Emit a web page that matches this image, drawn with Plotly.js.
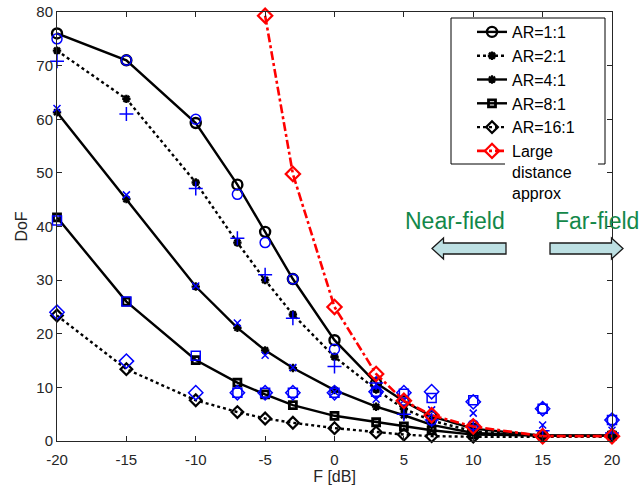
<!DOCTYPE html>
<html>
<head>
<meta charset="utf-8">
<script src="https://cdn.plot.ly/plotly-3.0.1.min.js"></script>
<style>html,body{margin:0;padding:0;background:#fff;}#chart{width:641px;height:495px;}</style>
</head>
<body>
<div id="chart"></div>
<script>
// ---- data ----
const F = [-20, -15, -10, -7, -5, -3, 0, 3, 5, 7, 10, 15, 20];

// analytic curves (black)
const ar1 = [76, 71, 59.3, 47.8, 39, 30.2, 18.8, 10.8, 7.4, 4.6, 2.3, 1, 1];
const ar2 = [72.8, 63.8, 48.2, 37, 30, 23.6, 15.7, 9.6, 6.0, 3.8, 1.8, 1, 1];
const ar4 = [61.3, 45.1, 28.8, 21.1, 16.9, 13.6, 9.5, 6.4, 4.8, 3.0, 1.5, 1, 1];
const ar8 = [41.7, 26, 15.1, 10.9, 8.7, 6.7, 4.7, 3.5, 2.7, 2.0, 1.2, 1, 1];
const ar16 = [23.4, 13.4, 7.6, 5.4, 4.2, 3.4, 2.4, 1.6, 1.2, 0.9, 0.8, 0.8, 0.8];

// simulated points (blue)
const sim1 = [75, 71, 60, 46, 37, 30.2, 17.1, 9.0, 7.6, 3.9, 3.0, 6.0, 3.9];
const sim2 = [70.8, 61, 47.1, 37.8, 31, 22.9, 13.9, 10.8, 5.0, 3.9, 2.9, 1.9, 1.5];
const sim4 = [62, 45.9, 28.9, 22, 16, 13.7, 9.2, 7.8, 7.6, 5.8, 5.2, 3.0, 2.0];
const sim8 = [41.1, 26, 15.9, 9, 9, 9, 9, 9.2, 8.8, 8.0, 7.6, 6.0, 3.9];
const sim16 = [24, 14.9, 9.0, 9, 9, 9, 9, 9.2, 9.0, 9.2, 7.3, 6.0, 3.9];

// large distance approximation (red)
const Fapprox = [-5, -3, 0, 3, 5, 7, 10, 15, 20];
const approx = [79.3, 49.8, 25, 12.5, 7.5, 4.8, 2.7, 0.9, 0.9];

const names = ['AR=1:1', 'AR=2:1', 'AR=4:1', 'AR=8:1', 'AR=16:1', 'Large<br>distance<br>approx'];
const xTicks = [-20, -15, -10, -5, 0, 5, 10, 15, 20];
const yTicks = [0, 10, 20, 30, 40, 50, 60, 70, 80];

// ---- styling ----
const BLACK = '#000000', BLUE = '#0000ff', RED = '#ff0000';
const FONT = 'Liberation Sans, Arial, Helvetica, sans-serif';

function black(y, name, dash, symbol, size, mlw) {
  return {x: F, y: y, name: name, type: 'scatter', mode: 'lines+markers',
    line: {color: BLACK, width: 2.4, dash: dash},
    marker: {symbol: symbol, size: size, color: BLACK, line: {color: BLACK, width: mlw}},
    cliponaxis: false};
}
function blue(y, symbol, size) {
  return {x: F, y: y, type: 'scatter', mode: 'markers', showlegend: false,
    marker: {symbol: symbol, size: size, color: BLUE, line: {color: BLUE, width: 1.5}},
    cliponaxis: false};
}

const traces = [
  black(ar1, names[0], 'solid', 'circle-open', 10, 2.4),
  black(ar2, names[1], 'dot', 'asterisk-open', 7, 2.4),
  black(ar4, names[2], 'solid', 'asterisk-open', 7, 2.2),
  black(ar8, names[3], 'solid', 'square-open', 7, 2.8),
  black(ar16, names[4], 'dot', 'diamond-open', 9, 2.2),
  blue(sim1, 'circle-open', 10),
  blue(sim2, 'cross-thin-open', 10),
  blue(sim4, 'x-thin-open', 7),
  blue(sim8, 'square-open', 9),
  blue(sim16, 'diamond-open', 11),
  {x: Fapprox, y: approx, name: names[5], type: 'scatter', mode: 'lines+markers',
   line: {color: RED, width: 2.6, dash: 'dashdot'},
   marker: {symbol: 'diamond-open', size: 11, color: RED, line: {color: RED, width: 2.2}},
   cliponaxis: false}
];

// layout helpers: pixel position -> paper fraction (decoration only)
const L = 57, R = 612, T = 12, B = 441;
const px = v => (v - L) / (R - L);
const py = v => (B - v) / (B - T);

function arrowLeft(tip, headX, right, yc, hh, sh) {
  return `M ${px(tip)} ${py(yc)} L ${px(headX)} ${py(yc - hh)} L ${px(headX)} ${py(yc - sh)} L ${px(right)} ${py(yc - sh)} L ${px(right)} ${py(yc + sh)} L ${px(headX)} ${py(yc + sh)} L ${px(headX)} ${py(yc + hh)} Z`;
}
function arrowRight(left, headX, tip, yc, hh, sh) {
  return `M ${px(tip)} ${py(yc)} L ${px(headX)} ${py(yc - hh)} L ${px(headX)} ${py(yc - sh)} L ${px(left)} ${py(yc - sh)} L ${px(left)} ${py(yc + sh)} L ${px(headX)} ${py(yc + sh)} L ${px(headX)} ${py(yc + hh)} Z`;
}

const layout = {
  width: 641, height: 495,
  margin: {l: L, r: 641 - R, t: T, b: 495 - B},
  paper_bgcolor: '#ffffff', plot_bgcolor: '#ffffff',
  font: {family: FONT, size: 15, color: '#262626'},
  showlegend: true,
  legend: {x: px(472), y: py(15), xanchor: 'left', yanchor: 'top',
    bgcolor: 'rgba(0,0,0,0)', borderwidth: 0, valign: 'top',
    font: {family: FONT, size: 16, color: '#000'}, tracegroupgap: 0},
  xaxis: {range: [-20, 20], tickvals: xTicks, ticktext: xTicks.map(String),
    ticks: 'inside', ticklen: 5, tickwidth: 1, tickcolor: '#262626',
    showline: true, linecolor: '#262626', linewidth: 1, mirror: 'ticks',
    showgrid: false, zeroline: false, tickfont: {size: 15, color: '#262626'},
    ticklabelstandoff: 5,
    title: {text: 'F [dB]', font: {size: 16, color: '#262626'}, standoff: 2}},
  yaxis: {range: [0, 80], tickvals: yTicks, ticktext: yTicks.map(String),
    ticks: 'inside', ticklen: 5, tickwidth: 1, tickcolor: '#262626',
    showline: true, linecolor: '#262626', linewidth: 1, mirror: 'ticks',
    showgrid: false, zeroline: false, tickfont: {size: 15, color: '#262626'},
    title: {text: 'DoF', font: {size: 16, color: '#262626'}, standoff: 4}},
  shapes: [
    // legend box
    {type: 'line', xref: 'paper', yref: 'paper', x0: px(451), x1: px(451), y0: py(18), y1: py(164), line: {color: '#000', width: 1}},
    {type: 'line', xref: 'paper', yref: 'paper', x0: px(451), x1: px(605), y0: py(18), y1: py(18), line: {color: '#000', width: 1}},
    {type: 'line', xref: 'paper', yref: 'paper', x0: px(605), x1: px(605), y0: py(18), y1: py(164), line: {color: '#000', width: 1}},
    {type: 'line', xref: 'paper', yref: 'paper', x0: px(451), x1: px(505), y0: py(164), y1: py(164), line: {color: '#000', width: 1}},
    {type: 'line', xref: 'paper', yref: 'paper', x0: px(598), x1: px(605), y0: py(164), y1: py(164), line: {color: '#000', width: 1}},
    // arrows
    {type: 'path', xref: 'paper', yref: 'paper', path: arrowLeft(432, 443.5, 506, 248.5, 10.5, 5.5),
     fillcolor: '#bde0e3', line: {color: '#1a1a1a', width: 1.3}},
    {type: 'path', xref: 'paper', yref: 'paper', path: arrowRight(550, 611.5, 623, 248.5, 10.5, 5.5),
     fillcolor: '#bde0e3', line: {color: '#1a1a1a', width: 1.3}}
  ],
  annotations: [
    {xref: 'paper', yref: 'paper', x: px(455), y: py(221), text: 'Near-field', showarrow: false,
     xanchor: 'center', yanchor: 'middle', font: {family: FONT, size: 23, color: '#13884a'}},
    {xref: 'paper', yref: 'paper', x: px(553), y: py(221), text: 'Far-field', showarrow: false,
     xanchor: 'left', yanchor: 'middle', font: {family: FONT, size: 23, color: '#13884a'}}
  ]
};

Plotly.newPlot('chart', traces, layout, {displayModeBar: false, staticPlot: true});
</script>
</body>
</html>
